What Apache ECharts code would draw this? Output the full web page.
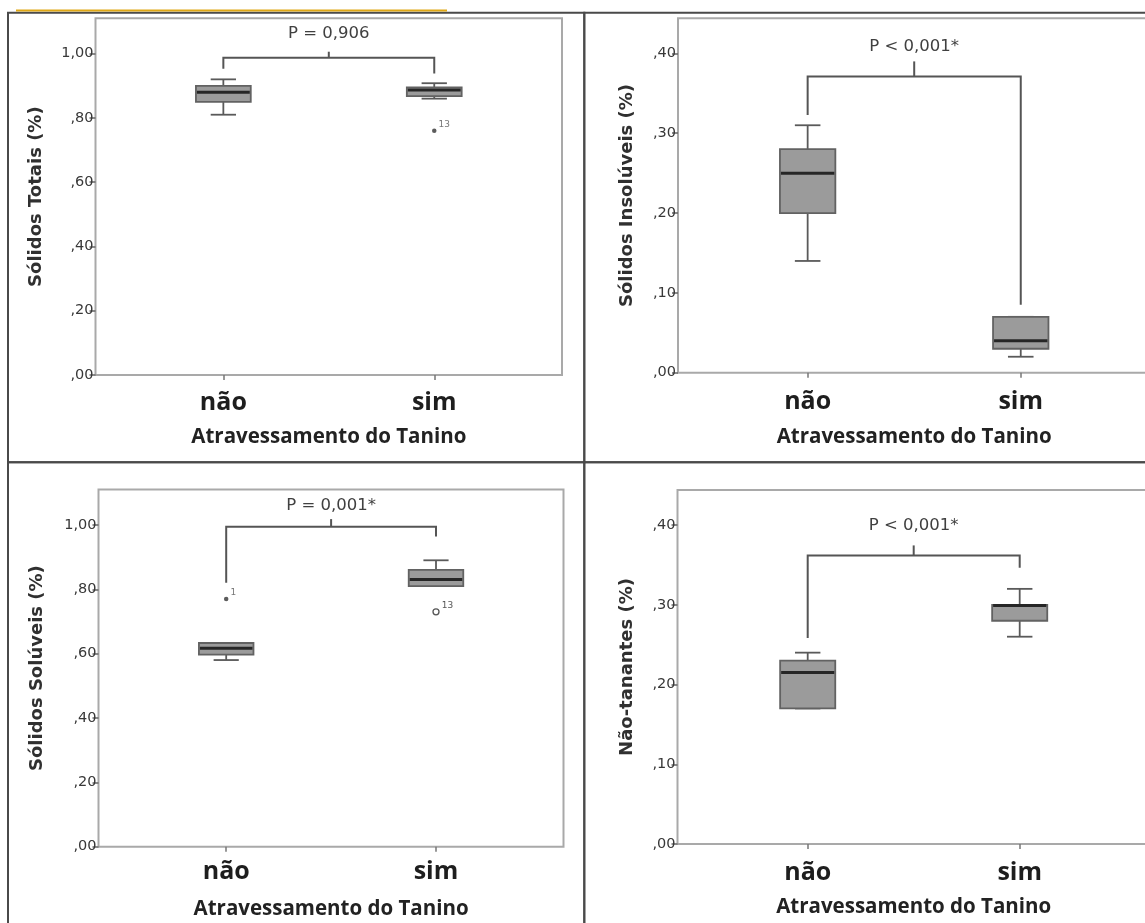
<!DOCTYPE html>
<html><head><meta charset="utf-8">
<script src="https://cdn.jsdelivr.net/npm/echarts@6/dist/echarts.min.js"></script>
<style>html,body{margin:0;padding:0;background:#fff}#c{width:1145px;height:923px}</style>
</head><body><div id="c"></div>
<script>
// ---------------- data ----------------
const categories = ['não', 'sim'];
const xAxisTitle = 'Atravessamento do Tanino';
const yTitles = ['Sólidos Totais (%)', 'Sólidos Insolúveis (%)', 'Sólidos Solúveis (%)', 'Não-tanantes (%)'];
const pTexts = ['P = 0,906', 'P < 0,001*', 'P = 0,001*', 'P < 0,001*'];

const yTicksWide = [0, 0.2, 0.4, 0.6, 0.8, 1.0];
const yLabelsWide = [',00', ',20', ',40', ',60', ',80', '1,00'];
const yTicksNarrow = [0, 0.1, 0.2, 0.3, 0.4];
const yLabelsNarrow = [',00', ',10', ',20', ',30', ',40'];
const yMaxWide = 1.11;
const yMaxNarrow = 0.444;

// box values per category: [lower whisker, Q1, median, Q3, upper whisker]
const boxTotais = [[0.81, 0.85, 0.88, 0.90, 0.92], [0.86, 0.868, 0.887, 0.895, 0.908]];
const boxInsoluveis = [[0.14, 0.20, 0.25, 0.28, 0.31], [0.02, 0.03, 0.04, 0.07, 0.07]];
const boxSoluveis = [[0.58, 0.597, 0.617, 0.633, 0.633], [0.81, 0.81, 0.83, 0.86, 0.89]];
const boxNaoTanantes = [[0.17, 0.17, 0.215, 0.23, 0.24], [0.26, 0.28, 0.299, 0.30, 0.32]];

// outliers: [category index, value], case ids, kinds ('*' extreme, 'o' outlier)
const outTotais = [[1, 0.76]];
const outTotaisIds = ['13'];
const outTotaisKinds = ['*'];
const outInsoluveis = [];
const outInsoluveisIds = [];
const outInsoluveisKinds = [];
const outSoluveis = [[0, 0.77], [1, 0.73]];
const outSoluveisIds = ['1', '13'];
const outSoluveisKinds = ['*', 'o'];
const outNaoTanantes = [];
const outNaoTanantesIds = [];
const outNaoTanantesKinds = [];

// significance brackets (data units): [bar level, left leg end, right leg end, centre tick top, text level]
const bracketTotais = [0.987, 0.953, 0.938, 1.006, 1.063];
const bracketInsoluveis = [0.371, 0.323, 0.085, 0.390, 0.408];
const bracketSoluveis = [0.994, 0.820, 0.964, 1.018, 1.059];
const bracketNaoTanantes = [0.362, 0.2585, 0.3465, 0.3745, 0.399];

// ---------------- layout ----------------
const panels = [
  { box: boxTotais, out: outTotais, ids: outTotaisIds, kinds: outTotaisKinds, br: bracketTotais,
    p: pTexts[0], title: yTitles[0], ticks: yTicksWide, labels: yLabelsWide, max: yMaxWide,
    frame: { left: 95.5, top: 18.3, width: 466.5, height: 356.7 }, dataLeft: 117.9, dataWidth: 421.8,
    nameGapY: 50, labelMargin: 15, nameGapX: 52 },
  { box: boxInsoluveis, out: outInsoluveis, ids: outInsoluveisIds, kinds: outInsoluveisKinds, br: bracketInsoluveis,
    p: pTexts[1], title: yTitles[1], ticks: yTicksNarrow, labels: yLabelsNarrow, max: yMaxNarrow,
    frame: { left: 678, top: 18.3, width: 520, height: 354.4 }, dataLeft: 701.1, dataWidth: 426.2,
    nameGapY: 42, labelMargin: 17, nameGapX: 54 },
  { box: boxSoluveis, out: outSoluveis, ids: outSoluveisIds, kinds: outSoluveisKinds, br: bracketSoluveis,
    p: pTexts[2], title: yTitles[2], ticks: yTicksWide, labels: yLabelsWide, max: yMaxWide,
    frame: { left: 98.5, top: 489.5, width: 465, height: 357.2 }, dataLeft: 121.3, dataWidth: 419.6,
    nameGapY: 52, labelMargin: 13, nameGapX: 52 },
  { box: boxNaoTanantes, out: outNaoTanantes, ids: outNaoTanantesIds, kinds: outNaoTanantesKinds, br: bracketNaoTanantes,
    p: pTexts[3], title: yTitles[3], ticks: yTicksNarrow, labels: yLabelsNarrow, max: yMaxNarrow,
    frame: { left: 677.5, top: 490, width: 520, height: 354 }, dataLeft: 701.7, dataWidth: 424,
    nameGapY: 41, labelMargin: 16, nameGapX: 53 }
];

const cellBorder = { show: true, borderColor: '#4a4a4a', borderWidth: 2, backgroundColor: 'transparent', outerBoundsMode: 'none' };
const grids = [
  Object.assign({ left: 8, top: 12.7, width: 576.3, height: 449.6 }, cellBorder),
  Object.assign({ left: 584.3, top: 12.7, width: 620, height: 449.6 }, cellBorder),
  Object.assign({ left: 8, top: 462.3, width: 576.3, height: 520 }, cellBorder),
  Object.assign({ left: 584.3, top: 462.3, width: 620, height: 520 }, cellBorder)
];
panels.forEach(pn => {
  grids.push(Object.assign({}, pn.frame, { show: true, borderColor: '#a9a9a9', borderWidth: 2, backgroundColor: '#fff', outerBoundsMode: 'none' }));
});
panels.forEach(pn => {
  grids.push({ left: pn.dataLeft, width: pn.dataWidth, top: pn.frame.top, height: pn.frame.height, show: false, outerBoundsMode: 'none', containLabel: false });
});

const xAxes = [], yAxes = [], series = [];

function renderBox(params, api) {
  const k = api.value(0);
  const lo = api.coord([k, api.value(1)]);
  const q1 = api.coord([k, api.value(2)]);
  const md = api.coord([k, api.value(3)]);
  const q3 = api.coord([k, api.value(4)]);
  const hi = api.coord([k, api.value(5)]);
  const band = api.size([1, 0])[0];
  const bw = band * 0.26, cw = band * 0.12, x = q1[0];
  const ws = { stroke: '#5a5a5a', lineWidth: 1.8 };
  return { type: 'group', children: [
    { type: 'line', shape: { x1: x, y1: hi[1], x2: x, y2: q3[1] }, style: ws },
    { type: 'line', shape: { x1: x, y1: lo[1], x2: x, y2: q1[1] }, style: ws },
    { type: 'line', shape: { x1: x - cw / 2, y1: hi[1], x2: x + cw / 2, y2: hi[1] }, style: ws },
    { type: 'line', shape: { x1: x - cw / 2, y1: lo[1], x2: x + cw / 2, y2: lo[1] }, style: ws },
    { type: 'rect', shape: { x: x - bw / 2, y: q3[1], width: bw, height: q1[1] - q3[1] },
      style: { fill: '#9b9b9b', stroke: '#626262', lineWidth: 1.8 } },
    { type: 'line', shape: { x1: x - bw / 2 + 1, y1: md[1], x2: x + bw / 2 - 1, y2: md[1] },
      style: { stroke: '#262626', lineWidth: 3 } }
  ] };
}

function makeBracket(text) {
  return function (params, api) {
    const bar = api.value(2), le = api.value(3), re = api.value(4), tt = api.value(5), ty = api.value(6);
    const pL = api.coord([api.value(0), bar]);
    const pR = api.coord([api.value(1), bar]);
    const yLe = api.coord([api.value(0), le])[1];
    const yRe = api.coord([api.value(1), re])[1];
    const yTt = api.coord([api.value(0), tt])[1];
    const yTy = api.coord([api.value(0), ty])[1];
    const mx = (pL[0] + pR[0]) / 2;
    const st = { stroke: '#555', lineWidth: 2, fill: null };
    return { type: 'group', children: [
      { type: 'polyline', shape: { points: [[pL[0], yLe], [pL[0], pL[1]], [pR[0], pR[1]], [pR[0], yRe]] }, style: st },
      { type: 'line', shape: { x1: mx, y1: pL[1], x2: mx, y2: yTt }, style: st },
      { type: 'text', x: mx, y: yTy, style: { text: text, fill: '#404040', fontFamily: 'DejaVu Sans', fontSize: 16.5,
        align: 'center', verticalAlign: 'middle' } }
    ] };
  };
}

panels.forEach((pn, i) => {
  const g = 8 + i;
  xAxes.push({
    type: 'category', gridIndex: g, data: categories,
    axisLine: { show: false },
    axisTick: { show: true, alignWithLabel: true, length: 5, lineStyle: { color: '#777', width: 1.5 } },
    axisLabel: { margin: pn.labelMargin, fontFamily: 'Open Sans', fontWeight: 'bold', fontSize: 25, color: '#1e1e1e' },
    splitLine: { show: false },
    name: xAxisTitle, nameLocation: 'middle', nameGap: pn.nameGapX,
    nameTextStyle: { fontFamily: 'Open Sans', fontWeight: 'bold', fontSize: 20.5, color: '#222' }
  });
  yAxes.push({
    type: 'value', gridIndex: g, min: 0, max: pn.max, offset: pn.dataLeft - pn.frame.left,
    axisLine: { show: false }, splitLine: { show: false },
    axisTick: { show: true, length: 6, lineStyle: { color: '#666', width: 1.5 }, customValues: pn.ticks },
    axisLabel: { customValues: pn.ticks, margin: 2, fontFamily: 'DejaVu Sans', fontSize: 14.5, color: '#383838',
      padding: [6, 0, 0, 0],
      formatter: v => { const j = pn.ticks.findIndex(t => Math.abs(t - v) < 1e-9); return j >= 0 ? pn.labels[j] : ''; } },
    name: pn.title, nameLocation: 'middle', nameGap: pn.nameGapY,
    nameTextStyle: { fontFamily: 'DejaVu Sans', fontWeight: 'bold', fontSize: 18, color: '#303030' }
  });
  series.push({
    type: 'custom', xAxisIndex: i, yAxisIndex: i, renderItem: renderBox, z: 3,
    encode: { x: 0, y: [1, 2, 3, 4, 5] },
    data: pn.box.map((b, k) => [k].concat(b))
  });
  if (pn.out.length) {
    series.push({
      type: 'scatter', xAxisIndex: i, yAxisIndex: i, z: 4,
      data: pn.out.map((o, k) => ({
        value: o,
        symbol: 'circle',
        symbolSize: pn.kinds[k] === 'o' ? 6 : 4.5,
        itemStyle: pn.kinds[k] === 'o' ? { color: '#ffffff', borderColor: '#555', borderWidth: 1.3, opacity: 1 } : { color: '#333' },
        label: { show: true, formatter: pn.ids[k], position: 'right', distance: 2, offset: [0, -6],
          fontFamily: 'DejaVu Sans', fontSize: 9, color: '#555' }
      }))
    });
  }
  series.push({
    type: 'custom', xAxisIndex: i, yAxisIndex: i, renderItem: makeBracket(pn.p), z: 5,
    encode: { x: 0, y: 2 },
    data: [[0, 1].concat(pn.br)]
  });
});

const chart = echarts.init(document.getElementById('c'), null, { renderer: 'canvas' });
chart.setOption({
  animation: false,
  backgroundColor: '#fff',
  grid: grids,
  xAxis: xAxes,
  yAxis: yAxes,
  series: series,
  graphic: [
    { type: 'line', shape: { x1: 16, y1: 10.5, x2: 447, y2: 10.5 }, style: { stroke: '#e0a815', lineWidth: 2 }, z: 10 }
  ]
});
</script>
</body></html>
